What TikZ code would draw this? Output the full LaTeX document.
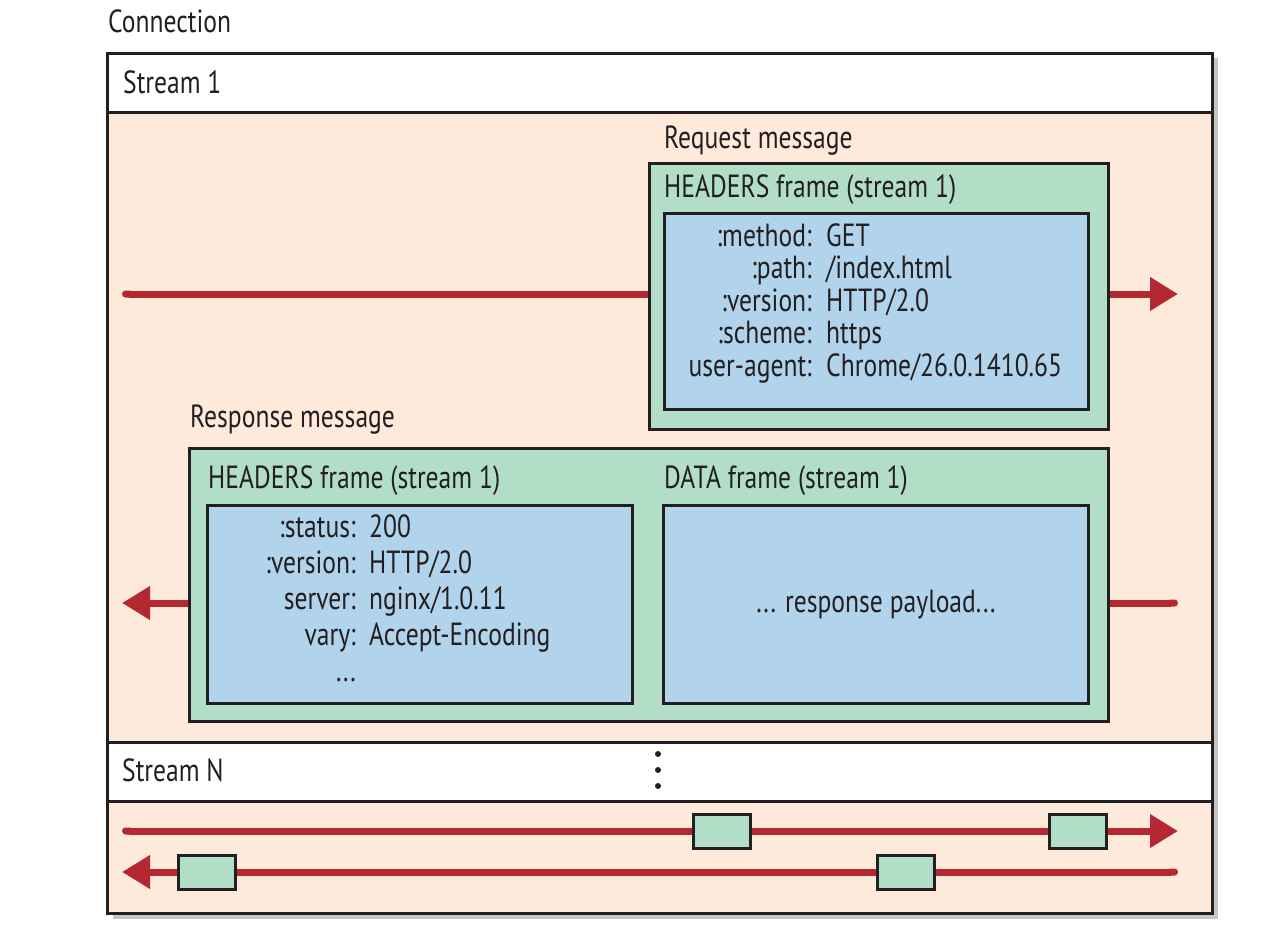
\documentclass[tikz,border=0pt]{standalone}
\usepackage{fontspec}
\setmainfont{PT Sans}[FakeStretch=0.80]
\usetikzlibrary{arrows.meta,shadows}
\definecolor{peach}{RGB}{253,234,218}
\definecolor{framegreen}{RGB}{178,222,199}
\definecolor{fieldblue}{RGB}{177,211,235}
\definecolor{streamred}{RGB}{180,40,50}
\definecolor{ink}{RGB}{35,31,32}
\tikzstyle{frame box}   = [draw=ink,line width=3pt,fill=framegreen,inner sep=0,anchor=north west]
\tikzstyle{field box}   = [draw=ink,line width=3pt,fill=fieldblue,inner sep=0,anchor=north west]
\tikzstyle{band}        = [draw=ink,line width=3pt,fill=white,inner sep=0,anchor=north west,minimum width=1105pt,minimum height=59pt]
\tikzstyle{label text}  = [anchor=base west,inner sep=0]
\tikzstyle{stream line} = [streamred,line width=7pt]
\tikzstyle{tip}         = [-{Triangle[length=28pt,width=32pt]}]

\begin{document}
\begin{tikzpicture}[x=1pt,y=-1pt,font=\fontsize{32}{32.5}\selectfont,text=ink]
    \useasboundingbox (0,0) rectangle (1266,942);

    % Connection frame
    \node(conn)[anchor=north west,inner sep=0,minimum width=1105pt,minimum height=860pt,
        fill=peach,draw=ink,line width=3pt,
        drop shadow={shadow xshift=5pt,shadow yshift=-5pt,fill=black!45,opacity=.5}] at (106,52) {};
    \node(conntext)[label text] at (108,33) {Connection};

    % Stream bands
    \node(s1band)[band] at (106,52) {};
    \node(s1text)[label text] at (123,93) {Stream 1};
    \node(snband)[band] at (106,741) {};
    \node(sntext)[label text] at (122,781) {Stream N};
    \foreach \y in {754,770,786}
        \fill[ink] (658,\y) circle (3);

    % Request message
    \node(reqtitle)[label text] at (664,148) {Request message};
    \node(req)[frame box,minimum width=459pt,minimum height=266pt] at (648,162) {};
    \node(reqhead)[label text] at (664,197) {HEADERS frame (stream 1)};
    \node(reqf)[field box,minimum width=424pt,minimum height=196pt] at (663,212) {};
    \node(reqkeys)[anchor=base east,inner sep=0] at (812,246)
        {\begin{tabular}[t]{@{}r@{}}:method:\\:path:\\:version:\\:scheme:\\user-agent:\end{tabular}};
    \node(reqvals)[anchor=base west,inner sep=0] at (826,246)
        {\begin{tabular}[t]{@{}l@{}}GET\\/index.html\\HTTP/2.0\\https\\Chrome/26.0.1410.65\end{tabular}};

    % Response message
    \node(resptitle)[label text] at (190,427) {Response message};
    \node(resp)[frame box,minimum width=919pt,minimum height=273pt] at (188,447) {};
    \node(resphead)[label text] at (208,488) {HEADERS frame (stream 1)};
    \node(datahead)[label text] at (664,488) {DATA frame (stream 1)};
    \node(respf)[field box,minimum width=425pt,minimum height=198pt] at (206,504) {};
    \node(dataf)[field box,minimum width=425pt,minimum height=198pt] at (662,504) {};
    \node(respkeys)[anchor=base east,inner sep=0] at (356,537)
        {\fontsize{32}{36}\selectfont\begin{tabular}[t]{@{}r@{}}:status:\\:version:\\server:\\vary:\\...\end{tabular}};
    \node(respvals)[anchor=base west,inner sep=0] at (369,537)
        {\fontsize{32}{36}\selectfont\begin{tabular}[t]{@{}l@{}}200\\HTTP/2.0\\nginx/1.0.11\\Accept-Encoding\end{tabular}};
    \node(payload) at (dataf.center) {... response payload...};

    % Stream 1 lines
    \coordinate(s1in) at (122,294);
    \coordinate(s1out) at (1178,294);
    \coordinate(r1in) at (1178,603);
    \coordinate(r1out) at (122,603);
    \draw[stream line,{Round Cap}-] (s1in) -- (s1in -| req.west);
    \draw[stream line,tip] (s1out -| req.east) -- (s1out);
    \draw[stream line,-{Round Cap}] (r1in -| resp.east) -- (r1in);
    \draw[stream line,tip] (r1out -| resp.west) -- (r1out);

    % Stream N lines, frames on top
    \coordinate(sna) at (122,831);
    \coordinate(snb) at (1178,831);
    \coordinate(snc) at (1178,872);
    \coordinate(snd) at (122,872);
    \draw[stream line,{Round Cap}-{Triangle[length=28pt,width=32pt]}] (sna) -- (snb);
    \draw[stream line,{Round Cap}-{Triangle[length=28pt,width=32pt]}] (snc) -- (snd);
    \node(f1)[frame box,anchor=center,minimum width=57pt,minimum height=34pt] at (722,831) {};
    \node(f2)[frame box,anchor=center,minimum width=57pt,minimum height=34pt] at (1078,831) {};
    \node(f3)[frame box,anchor=center,minimum width=57pt,minimum height=34pt] at (207,872) {};
    \node(f4)[frame box,anchor=center,minimum width=57pt,minimum height=34pt] at (906,872) {};

\end{tikzpicture}
\end{document}
